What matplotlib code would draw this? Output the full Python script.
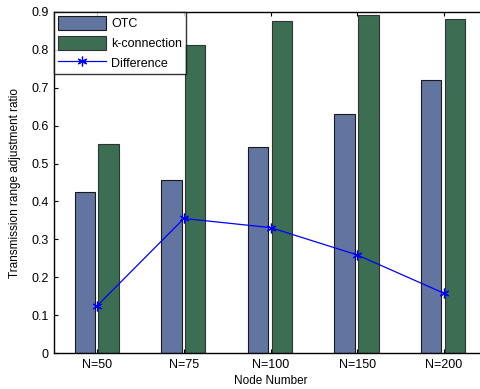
import matplotlib
matplotlib.use("Agg")
import matplotlib.pyplot as plt
import numpy as np

plt.rcParams['font.family'] = ['Liberation Sans', 'DejaVu Sans']

categories = ["N=50", "N=75", "N=100", "N=150", "N=200"]
otc = [0.425, 0.457, 0.544, 0.632, 0.721]
kconn = [0.552, 0.813, 0.876, 0.892, 0.881]
diff = [0.125, 0.355, 0.331, 0.259, 0.158]

fig = plt.figure(figsize=(4.8, 3.89), dpi=100)
W, H = 480, 389
ax = fig.add_axes([54 / W, 1 - 353 / H, (487 - 54) / W, (353 - 12) / H])

x = np.arange(1, len(categories) + 1)
bw = 0.235
b1 = ax.bar(x - 0.145, otc, bw, color='#6274a0', edgecolor='#1a1a1a', linewidth=0.8, label='OTC')
b2 = ax.bar(x + 0.13, kconn, bw, color='#3b6e53', edgecolor='#333333', linewidth=0.8, label='k-connection')
l1, = ax.plot(x, diff, color='#0000ff', marker=(6, 2, 0), markersize=7, markeredgewidth=0.9,
              linewidth=0.9, label='Difference')

ax.set_xlim(0.5, 5.5)
ax.set_ylim(0, 0.9)
ax.set_xticks(x)
ax.set_xticklabels(categories)
ax.set_yticks(np.arange(0, 0.91, 0.1))
ax.set_yticklabels(["0", "0.1", "0.2", "0.3", "0.4", "0.5", "0.6", "0.7", "0.8", "0.9"])
ax.tick_params(direction='in', length=3, labelsize=9, top=True, right=True, pad=4)
for s in ax.spines.values():
    s.set_linewidth(1.0)
ax.set_xlabel("Node Number", fontsize=8.5, labelpad=3)
ax.set_ylabel("Transmission range adjustment ratio", fontsize=8.5, labelpad=7)

leg = ax.legend([b1, b2, l1], ['OTC', 'k-connection', 'Difference'],
                loc='upper left', bbox_to_anchor=(0, 1), borderaxespad=0, fancybox=False,
                edgecolor='black', fontsize=9, handlelength=3.8, handleheight=1.3,
                labelspacing=0.45, borderpad=0.35, handletextpad=0.4)
leg.get_frame().set_linewidth(1.0)

fig.savefig("out.png", dpi=100)
